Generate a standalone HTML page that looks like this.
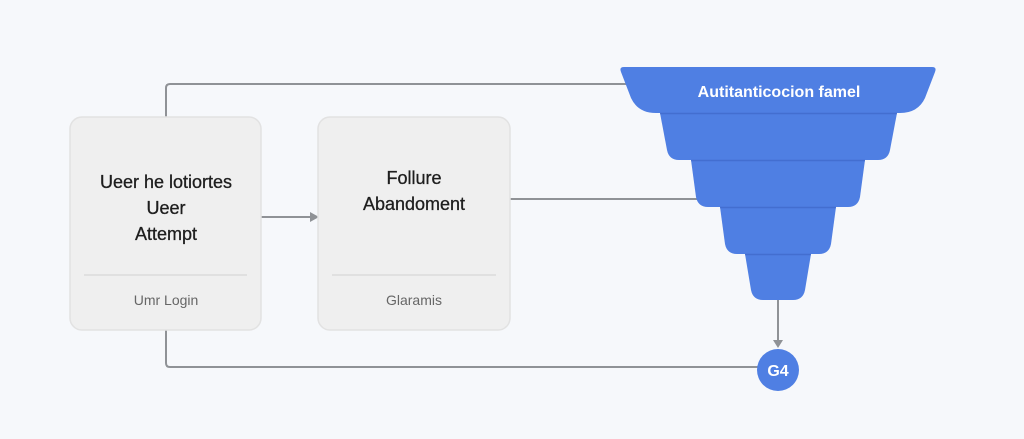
<!DOCTYPE html>
<html><head><meta charset="utf-8"><style>
html,body{margin:0;padding:0;background:#f6f8fb;}
svg{display:block;font-family:"Liberation Sans",sans-serif;}
</style></head><body>
<svg width="1024" height="439" viewBox="0 0 1024 439" xmlns="http://www.w3.org/2000/svg">
<rect width="1024" height="439" fill="#f6f8fb"/>
<g fill="none" stroke="#8f9296" stroke-width="2">
<path d="M166 117 V88 Q166 84 170 84 H628"/>
<path d="M166 330 V363 Q166 367 170 367 H758"/>
<path d="M510 199 H705"/>
<path d="M261 217 H312"/>
<path d="M778 300 V340"/>
</g>
<path d="M310 212 L319 217 L310 222 Z" fill="#8f9296"/>
<path d="M773 340 L778 348 L783 340 Z" fill="#8f9296"/>
<rect x="70" y="117" width="191" height="213" rx="12" fill="#efefef" stroke="#e2e2e2" stroke-width="1.5"/>
<rect x="318" y="117" width="192" height="213" rx="12" fill="#efefef" stroke="#e2e2e2" stroke-width="1.5"/>
<line x1="84" y1="275" x2="247" y2="275" stroke="#dcdcdc" stroke-width="1.5"/>
<line x1="332" y1="275" x2="496" y2="275" stroke="#dcdcdc" stroke-width="1.5"/>
<g fill="#1e1e1e" font-size="18" text-anchor="middle" stroke="#1e1e1e" stroke-width="0.3">
<text x="166" y="188">Ueer he lotiortes</text>
<text x="166" y="214">Ueer</text>
<text x="166" y="240">Attempt</text>
<text x="414" y="184">Follure</text>
<text x="414" y="210">Abandoment</text>
</g>
<g fill="#666" font-size="14" text-anchor="middle">
<text x="166" y="305">Umr Login</text>
<text x="414" y="305">Glaramis</text>
</g>
<g fill="#4f7fe3">
<path d="M745 254 H811 L805 290 Q803 300 793 300 H763 Q753 300 751 290 Z"/>
<path d="M720 207 H836 L831 244 Q829 254 819 254 H737 Q727 254 725 244 Z"/>
<path d="M691 160 H865 L860 197 Q858 207 848 207 H708 Q698 207 696 197 Z"/>
<path d="M660 113 H897 L890 150 Q888 160 878 160 H679 Q669 160 667 150 Z"/>
<path d="M624 67 H932 Q937 67 935 72 L925 98 Q918 113 900 113 H656 Q638 113 631 98 L621 72 Q619 67 624 67 Z"/>
</g>
<g stroke="#3e68c8" stroke-width="1.5" opacity="0.7">
<line x1="660" y1="113.5" x2="897" y2="113.5"/>
<line x1="691" y1="160.5" x2="865" y2="160.5"/>
<line x1="720" y1="207.5" x2="836" y2="207.5"/>
<line x1="745" y1="254.5" x2="811" y2="254.5"/>
</g>
<text x="779" y="97" fill="#fff" font-size="16" font-weight="bold" text-anchor="middle">Autitanticocion famel</text>
<circle cx="778" cy="370" r="21" fill="#4f7fe3"/>
<text x="778" y="376" fill="#fff" font-size="16" font-weight="bold" text-anchor="middle">G4</text>
</svg>
</body></html>
